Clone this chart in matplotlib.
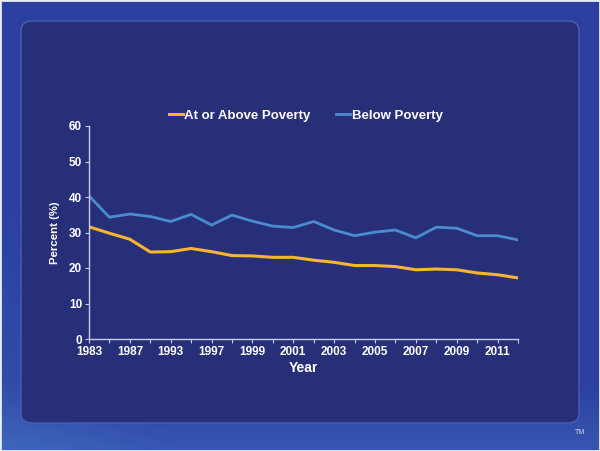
import numpy as np
import matplotlib
matplotlib.use("Agg")
import matplotlib.pyplot as plt
from matplotlib.patches import FancyBboxPatch, Rectangle

plt.rcParams["font.family"] = ["Liberation Sans", "DejaVu Sans"]
plt.rcParams["font.weight"] = "bold"

years = ["1983", "1985", "1987", "1990", "1993", "1995", "1997", "1998",
         "1999", "2000", "2001", "2002", "2003", "2004", "2005", "2006",
         "2007", "2008", "2009", "2010", "2011", "2012"]
above = [31.6, 29.8, 28.1, 24.5, 24.6, 25.5, 24.6, 23.5, 23.4, 23.0, 23.0,
         22.2, 21.6, 20.7, 20.7, 20.4, 19.5, 19.7, 19.5, 18.6, 18.1, 17.2]
below = [40.3, 34.3, 35.2, 34.5, 33.1, 35.1, 32.1, 34.9, 33.2, 31.8, 31.4,
         33.1, 30.7, 29.1, 30.1, 30.7, 28.5, 31.5, 31.2, 29.1, 29.1, 27.9]

fig = plt.figure(figsize=(6.0, 4.51), dpi=100)

# background with a soft gradient
bg = fig.add_axes([0, 0, 1, 1])
bg.set_axis_off()
gy, gx = np.mgrid[0:1:200j, 0:1:260j]
shade = np.clip(2.2 * (gy - 0.85), 0, 1) + np.clip(0.8 * (0.3 - gx - 0.5 * (1 - gy)), 0, 1)
c0 = np.array([0.17, 0.25, 0.63])
c1 = np.array([0.30, 0.52, 0.82])
img = c0 + (c1 - c0) * np.clip(shade, 0, 1)[..., None]
bg.imshow(img, extent=[0, 1, 0, 1], aspect="auto", origin="upper")
bg.set_xlim(0, 1)
bg.set_ylim(0, 1)
bg.add_patch(Rectangle((0, 0), 1, 1, facecolor="none", edgecolor="#e8ecf8",
                       linewidth=2, transform=bg.transAxes))
panel = FancyBboxPatch((21 / 600, 1 - 423 / 451), 558 / 600, 402 / 451,
                       boxstyle="round,pad=0,rounding_size=0.02",
                       facecolor="#282f79", edgecolor="#4a5cb0", linewidth=1.0,
                       transform=bg.transAxes)
bg.add_patch(panel)
bg.text(585 / 600, 1 - 433 / 451, "TM", color="#d0d6f0", fontsize=5,
        fontweight="normal", ha="right", va="center")

ax = fig.add_axes([89 / 600, 1 - 339 / 451, 429 / 600, 213 / 451])
ax.set_facecolor("none")
x = np.arange(len(years))
ax.plot(x, above, color="#f5b52e", linewidth=2.2, label="At or Above Poverty")
ax.plot(x, below, color="#4b8bd0", linewidth=2.0, label="Below Poverty")

ax.set_xlim(0, len(years) - 1)
ax.set_ylim(0, 60)
ax.set_yticks(range(0, 61, 10))
ax.set_xticks(x)
ax.set_xticklabels([y if i % 2 == 0 else "" for i, y in enumerate(years)])
for s in ["top", "right"]:
    ax.spines[s].set_visible(False)
for s in ["left", "bottom"]:
    ax.spines[s].set_color("#c8cde8")
    ax.spines[s].set_linewidth(1.0)
ax.tick_params(colors="#c8cde8", labelcolor="white", labelsize=8.5, length=3,
               width=0.8, pad=2)
ax.set_xlabel("Year", color="white", fontsize=10, fontweight="bold", labelpad=2)
ax.set_ylabel("Percent (%)", color="white", fontsize=8.2, fontweight="bold",
              labelpad=6)

leg = ax.legend(loc="center", bbox_to_anchor=(0.505, 1.047), ncol=2,
                frameon=False, fontsize=9.5, handlelength=1.1,
                handletextpad=0.1, columnspacing=1.9)
for t in leg.get_texts():
    t.set_color("white")
    t.set_fontweight("bold")

fig.savefig("out.png", dpi=100)
